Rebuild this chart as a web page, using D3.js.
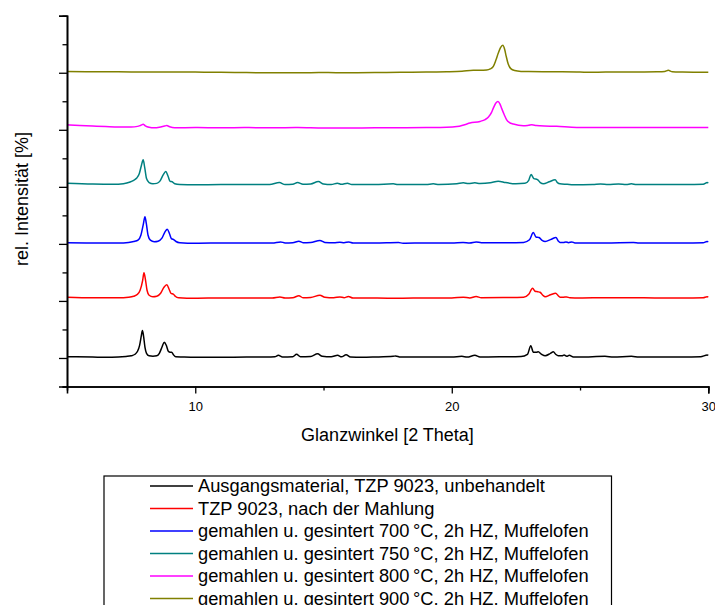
<!DOCTYPE html>
<html>
<head>
<meta charset="utf-8">
<script src="https://cdn.jsdelivr.net/npm/d3@7"></script>
<style>
  html, body { margin: 0; padding: 0; background: #fff; }
  svg { display: block; }
  text { font-family: "Liberation Sans", Arial, Helvetica, sans-serif; fill: #000; }
</style>
</head>
<body>
<svg id="chart" width="715" height="605"></svg>
<script>
// ---------------- DATA ----------------
const seriesNames = [
  "Ausgangsmaterial, TZP 9023, unbehandelt",
  "TZP 9023, nach der Mahlung",
  "gemahlen u. gesintert 700\u2009\u00b0C, 2h HZ, Muffelofen",
  "gemahlen u. gesintert 750\u2009\u00b0C, 2h HZ, Muffelofen",
  "gemahlen u. gesintert 800\u2009\u00b0C, 2h HZ, Muffelofen",
  "gemahlen u. gesintert 900\u2009\u00b0C, 2h HZ, Muffelofen"
];
const seriesColors = ["#000000", "#ff0000", "#0000ff", "#008080", "#ff00ff", "#808000"];
// vertical offset of each pattern (stacked plot)
const seriesOffsets = [12, 1047, 2012, 3035, 4030, 5012];

const xMajorTicks = [10, 20, 30];
const xMinorTicks = [15, 25];
const yMajorTicks = [0, 1000, 2000, 3000, 4000, 5000, 6000];
const yMinorTicks = [-500, 500, 1500, 2500, 3500, 4500, 5500];

// [2 Theta, intensity above baseline]
const dataAusgang = [[5.0,9],[6.0,5],[6.5,0],[7.0,4],[7.3,14],[7.5,26],[7.65,53],[7.75,105],[7.83,210],[7.9,385],[7.94,470],[7.98,385],[8.04,175],[8.1,70],[8.2,26],[8.35,18],[8.5,26],[8.6,70],[8.7,175],[8.79,263],[8.87,210],[8.95,105],[9.02,88],[9.08,88],[9.15,44],[9.24,9],[9.5,5],[10,0],[11,0],[12,5],[12.8,4],[13.1,9],[13.24,35],[13.4,5],[13.8,9],[13.95,53],[14.1,9],[14.5,14],[14.77,61],[14.95,18],[15.3,9],[15.55,35],[15.7,9],[15.88,44],[16.05,5],[16.5,0],[17,5],[17.72,18],[17.81,23],[18,4],[19,5],[20,5],[20.39,18],[20.6,4],[20.9,35],[21.1,5],[22,9],[22.7,14],[22.95,53],[23.08,201],[23.18,88],[23.3,88],[23.37,96],[23.5,53],[23.64,26],[23.85,70],[23.96,96],[24.05,53],[24.15,26],[24.3,26],[24.38,40],[24.48,18],[24.58,35],[24.74,5],[25,5],[25.97,18],[26.3,4],[27,18],[27.3,4],[28,5],[29,4],[29.7,9],[29.96,40],[30,32]];
const dataGemahlen = [[5.0,18],[6.0,9],[7.0,9],[7.4,18],[7.6,35],[7.75,70],[7.85,140],[7.95,315],[8.0,446],[8.05,350],[8.12,140],[8.2,53],[8.35,26],[8.5,35],[8.65,88],[8.78,193],[8.89,236],[8.98,158],[9.05,88],[9.15,70],[9.22,35],[9.35,9],[10,0],[11,5],[12,4],[13,5],[13.3,23],[13.5,5],[13.8,9],[14.04,44],[14.2,9],[14.5,14],[14.86,53],[15.05,18],[15.4,9],[15.64,23],[15.8,9],[15.97,32],[16.15,4],[17,4],[18,0],[19,5],[20,5],[20.45,18],[20.7,5],[20.95,32],[21.15,9],[22,12],[22.8,18],[23.0,70],[23.15,175],[23.25,123],[23.35,114],[23.44,105],[23.55,53],[23.64,26],[23.85,61],[24.05,88],[24.15,44],[24.22,18],[24.35,18],[24.48,23],[24.6,9],[25,5],[26,9],[27,9],[28,5],[29,5],[29.8,9],[29.95,26],[30,21]];
const data700 = [[5.0,9],[6.0,5],[7.0,5],[7.4,14],[7.6,30],[7.78,60],[7.88,140],[7.97,320],[8.04,464],[8.09,350],[8.16,140],[8.25,53],[8.4,26],[8.55,35],[8.7,88],[8.82,200],[8.91,245],[9.0,160],[9.07,80],[9.17,60],[9.25,30],[9.4,9],[10,0],[11,4],[12,5],[13,5],[13.33,23],[13.5,5],[13.8,9],[14.04,35],[14.2,9],[14.5,14],[14.86,47],[15.05,14],[15.4,9],[15.64,18],[15.8,9],[15.99,23],[16.15,4],[17,4],[17.92,12],[18.1,0],[19,5],[20,5],[20.44,12],[20.7,5],[20.95,23],[21.15,9],[22,9],[22.8,14],[23.03,60],[23.18,187],[23.28,110],[23.4,100],[23.52,50],[23.64,30],[23.88,70],[24.06,100],[24.15,40],[24.22,12],[24.35,12],[24.45,23],[24.55,9],[24.68,23],[24.8,5],[25,5],[26,5],[27.08,12],[27.3,4],[28,5],[29,4],[29.8,9],[29.95,30],[30,25]];
const data750 = [[5.0,30],[6.0,14],[6.8,9],[7.2,20],[7.46,50],[7.6,80],[7.72,120],[7.82,200],[7.9,340],[7.97,438],[8.03,300],[8.1,110],[8.2,40],[8.35,18],[8.5,26],[8.63,70],[8.75,175],[8.85,233],[8.94,150],[9.02,60],[9.1,53],[9.2,18],[9.4,5],[10,0],[11,5],[12,4],[12.9,5],[13.28,40],[13.5,5],[13.8,9],[13.99,40],[14.2,9],[14.5,14],[14.8,58],[15.0,14],[15.3,5],[15.54,30],[15.7,9],[15.93,30],[16.1,4],[17,5],[17.72,18],[17.9,4],[19,5],[19.28,18],[19.5,5],[20.2,18],[20.45,35],[20.65,23],[20.9,35],[21.1,23],[21.5,35],[21.81,65],[22.1,40],[22.5,18],[22.85,26],[23.0,80],[23.09,180],[23.2,110],[23.34,93],[23.45,40],[23.57,18],[23.8,53],[24.03,88],[24.12,40],[24.22,18],[24.5,9],[24.73,0],[25.5,5],[25.8,14],[26.1,4],[26.5,14],[26.8,4],[27.0,18],[27.2,4],[28,4],[29,5],[29.8,9],[29.96,40],[30,32]];
const data800 = [[5.0,58],[5.5,45],[6.0,35],[6.5,26],[7.0,18],[7.5,18],[7.75,30],[7.88,50],[7.97,65],[8.05,40],[8.2,14],[8.4,5],[8.6,14],[8.8,35],[8.89,44],[9.0,23],[9.2,5],[10,9],[11,5],[12,9],[13,5],[14,9],[15,0],[16,0],[17,5],[18,5],[19,9],[19.8,14],[20.2,26],[20.5,60],[20.71,88],[21.1,117],[21.3,150],[21.43,193],[21.55,275],[21.62,350],[21.72,440],[21.8,467],[21.88,420],[21.94,350],[22.05,230],[22.14,145],[22.25,96],[22.4,70],[22.79,40],[23.0,50],[23.12,58],[23.3,45],[23.44,40],[24.09,30],[24.87,12],[26,9],[27,12],[28,9],[29,12],[30,12]];
const data900 = [[5.0,9],[6,5],[7,5],[8,0],[9,2],[10,0],[11,-5],[12,-9],[13,-12],[14,-12],[15,-9],[16,-12],[17,-9],[18,-5],[19,0],[19.8,5],[20.4,14],[20.84,30],[21.1,30],[21.36,35],[21.5,55],[21.62,100],[21.72,210],[21.81,330],[21.9,430],[21.99,470],[22.06,400],[22.12,280],[22.2,140],[22.3,60],[22.45,26],[22.7,12],[23,9],[24,5],[25,0],[25.4,-5],[26,0],[27,0],[28.0,5],[28.3,10],[28.44,30],[28.6,5],[29,0],[30,-5]];

const seriesData = [dataAusgang, dataGemahlen, data700, data750, data800, data900];

// ---------------- CHART ----------------
const svg = d3.select("#chart");
const x = d3.scaleLinear().domain([5, 30]).range([67, 708.3]);
const y = d3.scaleLinear().domain([-500, 6000]).range([386.5, 15.7]);

// series
const line = d3.line().x(d => x(d[0])).y(d => y(d[1])).curve(d3.curveMonotoneX);
seriesData.forEach((arr, i) => {
  svg.append("path")
    .datum(arr.map(d => [d[0], d[1] + seriesOffsets[i]]))
    .attr("fill", "none")
    .attr("stroke", seriesColors[i])
    .attr("stroke-width", 1.5)
    .attr("stroke-linejoin", "round")
    .attr("d", line);
});

// y axis
const yMinor = svg.append("g").attr("transform", "translate(67,0)")
  .call(d3.axisLeft(y).tickValues(yMinorTicks).tickSize(4.5).tickFormat(""));
const yMajor = svg.append("g").attr("transform", "translate(67,0)")
  .call(d3.axisLeft(y).tickValues(yMajorTicks).tickSize(8).tickFormat(""));
// x axis
const xMinor = svg.append("g").attr("transform", "translate(0,386.5)")
  .call(d3.axisBottom(x).tickValues(xMinorTicks).tickSize(4).tickFormat(""));
const xMajor = svg.append("g").attr("transform", "translate(0,386.5)")
  .call(d3.axisBottom(x).tickValues(xMajorTicks).tickSize(7).tickPadding(8).tickFormat(d3.format("d")));

[yMinor, yMajor, xMinor, xMajor].forEach(g => {
  g.selectAll("path.domain").attr("stroke", "#000").attr("stroke-width", 1.6);
  g.selectAll(".tick line").attr("stroke", "#000").attr("stroke-width", 1.3);
});
xMajor.selectAll(".tick text").style("font-size", "13px")
  .style("font-family", "'Liberation Sans', Arial, sans-serif").attr("fill", "#000");

// titles
svg.append("text").attr("x", 387.5).attr("y", 440.7).attr("text-anchor", "middle")
  .style("font-size", "18px").text("Glanzwinkel [2 Theta]");
svg.append("text").attr("transform", "translate(28,199) rotate(-90)").attr("text-anchor", "middle")
  .style("font-size", "18px").text("rel. Intensit\u00e4t [%]");

// legend
const legendTop = 476;
svg.append("rect").attr("x", 104).attr("y", legendTop).attr("width", 507.5).attr("height", 160)
  .attr("fill", "#fff").attr("stroke", "#000").attr("stroke-width", 1.2);
const rowY = d3.scaleLinear().domain([0, 1]).range([486, 508.5]);
seriesNames.forEach((name, i) => {
  const yy = rowY(i);
  svg.append("line").attr("x1", 150).attr("x2", 193).attr("y1", yy).attr("y2", yy)
    .attr("stroke", seriesColors[i]).attr("stroke-width", 1.5);
  svg.append("text").attr("x", 198).attr("y", yy + 6.4).style("font-size", "18.3px").text(name);
});
</script>
</body>
</html>
